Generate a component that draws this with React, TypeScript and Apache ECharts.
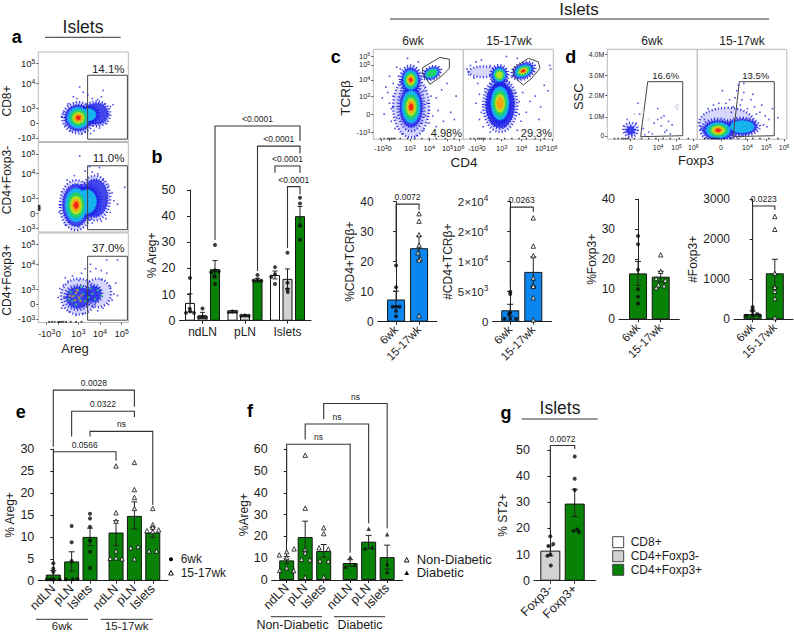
import React, { useEffect, useRef } from "react";
import * as echarts from "echarts";

const FONT = '"Liberation Sans", Arial, sans-serif';
const INK = "#1d1d1d";
const WHITE = "#ffffff";
const GRAY = "#d2d2d2";
const GREEN = "#078207";
const BLUE = "#0a86ee";
const LEVELS = ["#5454ea", "#1a22e6", "#16b2ee", "#22cf6a", "#b2e224", "#f8a312", "#ee2412"];
const NEST = [1, 0.84, 0.66, 0.5, 0.36, 0.24, 0.13];

// ---- panel b
const bPos = [0, 1, 2, 3.4, 4.4, 5.4, 6.8, 7.8, 8.8];
const bMeans = [6.8, 2, 19.7, 3.4, 2, 15.5, 17.5, 16, 40];
const bHi = [10.3, 3.2, 23, 3.9, 2.3, 16.2, 19, 19.8, 43.7];
const bLo = [3.4, 0.9, 16.4, 3, 1.7, 14.8, 16, 12.3, 36];
const bColors = [WHITE, GRAY, GREEN, WHITE, GRAY, GREEN, WHITE, GRAY, GREEN];
const bPoints = [
  [[0, 16.3], [-0.02, 4.6], [-0.32, 3], [0.32, 3], [0.02, 3.5]],
  [[0, 4.7], [-0.25, 1.3], [0.25, 1.3], [0, 1.6]],
  [[0, 29], [-0.3, 18.5], [0.3, 18.8], [0, 19.2], [0, 14], [-0.05, 17]],
  [[-0.3, 3.3], [0, 3.5], [0.3, 3.4]],
  [[-0.3, 1.9], [0, 2], [0.3, 1.9]],
  [[0, 17.5], [0, 15.8], [-0.3, 15.4], [0.3, 15.3]],
  [[0, 20.5], [0, 17.8], [-0.3, 16.8], [0, 14]],
  [[0, 26], [0, 14.5], [0, 12], [0.02, 11]],
  [[0, 47], [0, 44.8], [0, 36.5], [0, 31]],
];
const bBrackets = [[2, 30.9, 74.5, 8.8, 68.7], [5.4, 19, 66.8, 8.8, 64], [6.8, 56.6, 59.2, 8.8, 56.6], [7.8, 27.8, 51.3, 8.8, 48.4]];
const bBracketText = ["<0.0001", "<0.0001", "<0.0001", "<0.0001"];

// ---- panel c bars
const cPctMeans = [7.4, 24.5];
const cPctHi = [10.2, 28.5];
const cPctLo = [5, 20.5];
const cPctPoints = [
  [[0, 18.7], [0, 11.5], [-0.15, 5], [0.15, 5], [0, 5], [0, 3.6], [0, 1.8]],
  [[0, 36], [0, 33.5], [0, 29], [0, 25.5], [-0.05, 23], [0.05, 21], [0, 20.5], [0, 2]],
];
const cNumMeans = [1900, 8300];
const cNumHi = [2900, 10800];
const cNumLo = [900, 5900];
const cNumPoints = [
  [[0, 5000], [0, 4600], [0, 1500], [-0.25, 500], [0.25, 500], [0, 500], [-0.05, 1300]],
  [[0, 17300], [0, 12600], [0, 11000], [0, 7300], [0, 6000], [0, 5900], [0, 4000], [0, 300]],
];
const wkLabels = ["6wk", "15-17wk"];

// ---- panel d bars
const dPctMeans = [15.3, 14.2];
const dPctHi = [19.3, 16];
const dPctLo = [11.3, 12.5];
const dPctPoints = [
  [[0, 27.8], [0, 25], [0, 16.5], [0, 10], [0, 7.5], [0, 5.3]],
  [[0, 21.5], [0, 16], [-0.2, 13.6], [0.2, 13], [-0.1, 11.5], [0.15, 11.2], [-0.2, 10.5]],
];
const dNumMeans = [130, 1150];
const dNumHi = [210, 1500];
const dNumLo = [60, 800];
const dNumPoints = [
  [[0, 310], [0, 260], [0, 200], [-0.28, 90], [0.2, 130], [0, 110], [0.3, 100]],
  [[0, 2570], [0, 2250], [0, 1150], [0, 800], [0, 700], [0, 520], [0, 40]],
];

// ---- panel e
const ePos = [0, 1, 2, 3.42, 4.42, 5.42];
const eMeans = [1.4, 4.4, 10, 11, 14.8, 11];
const eHi = [2.3, 6.6, 12, 13.7, 18, 12.1];
const eLo = [0.5, 2.2, 8, 8, 11.8, 9.9];
const ePoints = [
  [[0, 4], [0, 2.8], [0, 2], [-0.35, 0.3], [0.35, 0.3], [0, 0.2], [-0.15, 0.3]],
  [[0, 12.5], [0, 8.8], [0, 4.5], [-0.3, 0.3], [0.05, 0.3], [0.32, 0.4]],
  [[0, 15.3], [0, 14.2], [0, 12.3], [0, 9.2], [0, 6.6], [0, 2.9]],
  [[0, 26.2], [0, 15.5], [0, 13.6], [0, 6.8], [-0.32, 5.1], [0, 5.2], [0.32, 5]],
  [[0, 27], [0, 20.8], [0, 19], [0, 16.5], [-0.2, 7.5], [0.2, 7.8], [0, 5]],
  [[0, 16.5], [0, 12.8], [0, 12.2], [-0.32, 11.4], [0, 11.2], [0.32, 11.6], [-0.2, 6.8], [0.2, 6.8]],
];
const eBrackets = [[0, 30.6, 43.5, 4.42, 39.7], [1, 32.9, 38.7, 4.42, 37.4], [2, 32.9, 34.1, 5.42, 17.3], [0, 5.5, 29.45, 3.42, 27.4]];
const eBracketText = ["0.0028", "0.0322", "ns", "0.0566"];
const areaLabels = ["ndLN", "pLN", "Islets", "ndLN", "pLN", "Islets"];

// ---- panel f
const fPos = [0, 1, 2, 3.43, 4.43, 5.43];
const fMeans = [9, 19.7, 13.3, 7.8, 17.6, 10.5];
const fHi = [10.8, 27, 16.3, 9.3, 20.5, 16];
const fLo = [7.5, 13, 10.5, 6.3, 14.5, 5];
const fPoints = [
  [[-0.4, 11.5], [0, 13], [0.4, 14.3], [0, 10.3], [0, 5.6], [-0.38, 4.4], [0.38, 4.3]],
  [[0, 57.3], [0, 33], [0, 14], [0, 12.5], [-0.2, 9.5], [0.25, 9.3], [0, 1.3]],
  [[0, 24], [0, 21.3], [-0.25, 14.8], [0.25, 14.2], [-0.2, 8.8], [0.25, 8.6], [0, 1.4]],
  [[0, 10.5], [-0.25, 6.2], [0.25, 7]],
  [[0, 23.5], [-0.2, 14.5], [0.2, 15]],
  [[0, 21], [0, 7.4], [0, 3.7]],
];
const fBrackets = [[0, 17.6, 62.3, 3.43, 12.5], [1, 64.5, 71.6, 4.43, 26], [2, 73.8, 81, 5.43, 23.8]];
const fBracketText = ["ns", "ns", "ns"];

// ---- panel g
const gMeans = [11.5, 29.5];
const gHi = [13.3, 35];
const gLo = [9.5, 24.5];
const gPoints = [
  [[0, 17], [0.12, 14], [-0.08, 13.3], [0, 10], [-0.12, 9.5], [0.02, 5.8]],
  [[0, 47.5], [0, 39], [0, 34.7], [-0.05, 19], [0.1, 19.6], [0.18, 18.6]],
];
const gLabels = ["Foxp3-", "Foxp3+"];

// ---- flow cytometry density blobs read by eye: [u, v, rx, ry, rotation deg, peak level]
const a1Blobs = [[65, 31, 15, 14, 0, 1], [56, 30, 12, 10, 0, 2], [44.5, 26.5, 18, 17.5, 0, 6]];
const a2Blobs = [[63, 38, 17, 25, 0, 1], [54, 34, 16, 20, 0, 2], [42, 30, 18, 28, 0, 6]];
const a3Blobs = [[45, 29, 20, 20, 0, 0], [66, 33, 15, 16, 0, 0], [44, 28, 15, 14, 0, 1], [62, 32, 9, 10, 0, 1]];
const c1Blobs = [[42, 36, 20, 34, 0, 0], [41.6, 66, 12, 16, 0, 6], [42, 36, 15, 27, 0, 6], [64.9, 73.5, 11, 7, 25, 3]];
const c2Blobs = [[41, 38, 19, 30, 0, 1], [40, 71.5, 10, 11, 0, 4], [22, 75, 16, 6, 0, 0], [40.8, 40, 15, 28, 0, 5], [66.7, 76, 14, 9, 25, 6]];
const d1Blobs = [[26, 10.5, 8, 8, 0, 0], [26, 10, 5, 5, 0, 1]];
const d2Blobs = [[33, 18, 31, 17, 0, 0], [50, 14, 20, 10, 0, 2], [23.4, 10, 20, 13, 0, 6]];

// ---- loose events around the blobs, read by eye: [u, v]
const a1Dots = [[46, 61], [55, 52], [72, 57], [80, 39], [83, 41], [76, 20], [68, 15], [28, 32], [26, 28], [39, 50], [43, 48], [52, 11], [41, 13], [60, 48], [66, 47], [74, 42], [78, 30], [48, 8], [58, 9], [33, 42], [30, 18], [62, 12], [70, 50], [50, 55], [36, 12]];
const a2Dots = [[84, 35], [88, 31], [80, 22], [75, 15], [72, 58], [66, 65], [60, 67], [52, 68], [40, 63], [32, 58], [26, 45], [24, 30], [23, 22], [30, 8], [45, 6], [60, 10], [70, 12], [82, 44], [78, 52], [68, 72], [46, 85], [96, 50], [57, 73], [35, 11]];
const a3Dots = [[30, 50], [38, 52], [48, 55], [58, 57], [64, 60], [70, 58], [76, 55], [80, 40], [84, 32], [86, 44], [88, 30], [78, 20], [72, 16], [66, 13], [60, 18], [50, 10], [42, 8], [34, 12], [26, 16], [22, 28], [24, 38], [76, 70], [88, 70], [58, 65], [52, 60], [45, 47], [33, 46], [82, 25], [70, 48], [28, 42]];
const a3Warm = [[40, 30], [46, 26], [50, 32], [38, 24], [44, 36], [36, 34], [52, 24], [60, 32], [66, 36], [70, 30], [42, 20], [48, 40], [56, 28], [63, 26], [34, 26], [58, 38]];
const a3Hot = [[42, 33], [45, 28], [38, 29], [48, 30], [41, 25], [35, 30], [43, 36], [47, 24]];
const axisPileA3 = [[12, 0.8], [15, 0.8], [18, 0.8], [22, 0.8], [24, 0.8], [26, 0.8], [28, 0.8], [31, 0.8], [36, 0.8], [42, 0.8], [48, 0.8]];
const c1Dots = [[18, 70], [22, 62], [26, 80], [30, 78], [14, 58], [10, 46], [20, 20], [24, 12], [32, 6], [48, 4], [56, 10], [62, 18], [66, 26], [72, 32], [60, 40], [64, 48], [70, 46], [76, 55], [56, 54], [86, 30], [90, 22], [18, 40], [12, 28], [70, 14], [78, 20], [58, 58], [50, 86], [38, 90], [82, 62], [92, 48], [16, 52], [22, 48], [20, 34], [26, 24], [58, 26], [62, 32], [54, 18], [28, 70]];
const c2Dots = [[4, 78], [8, 82], [6, 72], [12, 68], [14, 86], [20, 88], [30, 82], [30, 62], [16, 62], [18, 50], [20, 30], [14, 40], [22, 14], [30, 8], [60, 10], [64, 20], [70, 30], [74, 42], [62, 42], [66, 52], [80, 48], [86, 36], [84, 22], [96, 82], [97, 78], [58, 30], [60, 90], [48, 92], [90, 60], [94, 54], [18, 22], [24, 56], [58, 52], [62, 28]];
const d1Dots = [[42, 5], [46, 8], [52, 18], [56, 22], [60, 15], [63, 26], [66, 10], [68, 20], [60, 24], [64, 8], [36, 28], [32, 18], [34, 40], [56, 34], [72, 16], [50, 6], [70, 6], [22, 22], [18, 15], [40, 12]];
const d1Pale = [[78, 38], [78, 34], [76, 36], [30, 28], [40, 30], [46, 22]];
const d2Dots = [[8, 22], [12, 34], [18, 38], [24, 40], [32, 40], [36, 44], [42, 46], [44, 54], [50, 44], [48, 38], [52, 52], [60, 44], [64, 36], [70, 30], [76, 26], [80, 22], [84, 34], [72, 38], [66, 28], [56, 34], [28, 54], [38, 30], [46, 60], [74, 16], [78, 14], [62, 50], [6, 12], [52, 62], [40, 36], [90, 24]];
const axisPileC = [[8, 0.8], [12, 0.8], [16, 0.8], [18, 0.8], [20, 0.8], [22, 0.8], [24, 0.8], [30, 0.8], [38, 0.8], [46, 0.8], [54, 0.8], [62, 0.8], [70, 0.8], [80, 0.8], [90, 0.8]];
const axisPileLeft = [[1, 27], [1, 29], [1, 25]];

// ---- flow gates [u, v]
const a1Gate = [[54.8, 2.6], [54.8, 74], [99, 74], [99, 2.6]];
const c1Gate = [[54.8, 79.6], [74, 91], [84.5, 88.9], [84.5, 78.9], [76, 70.3], [63, 61.1], [54.8, 73.3]];
const c2Gate = [[55.6, 78.9], [72.2, 90], [83.3, 86.2], [85.2, 78.9], [76, 67.8], [66.7, 60.3], [56.3, 69.6]];
const d1Gate = [[37, 2.9], [44.9, 64], [83.8, 64], [83.8, 4]];
const d2Gate = [[40, 3], [47, 64], [86, 64], [86, 4]];

// ---- flow axis tick positions and labels
const aYTicks = [87.4, 65.2, 37.4, 20.8, 4.1];
const aYLabels = ["10^5", "10^4", "10^3", "0", "-10^3"];
const aXTicks = [9.3, 22.2, 44.4, 68.5, 92.6];
const aXLabels = ["-10^3", "0", "10^3", "10^4", "10^5"];
const cYTicks = [92.5, 82.6, 65.9, 47.3, 27.8, 7.8];
const cYLabels = ["10^6", "10^5", "10^4", "10^3", "0", "-10^3"];
const c1XTicks = [8.5, 18, 40.8, 62.2, 82.5, 95];
const c2XTicks = [13, 22.5, 42.7, 64.9, 86, 98.5];
const cXLabels = ["-10^3", "0", "10^3", "10^4", "10^5", "10^6"];
const dYTicks = [94.4, 71.4, 48.4, 24.8, 3.7];
const dYLabels = ["4.0M", "3.0M", "2.0M", "1.0M", "0"];
const d1XTicks = [26, 56.4, 77, 95.6];
const d2XTicks = [26.3, 56, 77, 97];
const dXLabels = ["0", "10^4", "10^5", "10^6"];
const cNumTicks = ["0", "5×10^3", "1×10^4", "2×10^4", "2×10^4"];

function supText(s: string) {
  const i = s.indexOf("^");
  return i < 0 ? `{n|${s}}` : `{n|${s.slice(0, i)}}{s|${s.slice(i + 1)}}`;
}
function richFor(size: number, lead = 3) {
  return {
    n: { fontSize: size, fontFamily: FONT, fill: INK, color: INK, lineHeight: size + lead },
    s: { fontSize: size * 0.72, fontFamily: FONT, fill: INK, color: INK, verticalAlign: "top", lineHeight: size + lead, padding: [0, 0, 3, 0] },
  };
}

function build() {
  const grid: any[] = [], xAxis: any[] = [], yAxis: any[] = [], series: any[] = [], graphic: any[] = [];

  const text = (t: string, x: number, y: number, size: number, o: any = {}) =>
    graphic.push({
      type: "text", x, y, rotation: o.rotation || 0, silent: true,
      style: { text: t, fontSize: size, fontFamily: FONT, fontWeight: o.bold ? "bold" : "normal", fill: o.fill || INK, textAlign: o.align || "center", textVerticalAlign: "middle", align: o.align || "center", verticalAlign: "middle", ...(o.rich ? { rich: o.rich } : {}) },
    });
  const rule = (x1: number, x2: number, y: number) =>
    graphic.push({ type: "line", silent: true, shape: { x1, y1: y, x2, y2: y }, style: { stroke: "#333", lineWidth: 1 } });

  function flow(p: any) {
    const idx = grid.length;
    grid.push({ left: p.x, top: p.y, width: p.w, height: p.h, show: true, borderColor: "#b9b9b9", borderWidth: 1, backgroundColor: "#fff" });
    const rich = richFor(p.tickSize, 1);
    xAxis.push({
      gridIndex: idx, type: "value", min: 0, max: 100, splitLine: { show: false }, axisLine: { show: false },
      axisTick: { show: p.showX, length: 2, customValues: p.xTicks, lineStyle: { color: "#555" } }, axisLabel: { show: false },
    });
    yAxis.push({
      gridIndex: idx, type: "value", min: 0, max: 100, splitLine: { show: false }, axisLine: { show: false },
      axisTick: { show: p.showY, length: 2, customValues: p.yTicks, lineStyle: { color: "#555" } }, axisLabel: { show: false },
    });
    // tick labels sit closer together than the axis's own label layout allows
    if (p.showX) p.xTicks.forEach((t: number, i: number) => text(supText(p.xLabels[i]), p.x + (t * p.w) / 100, p.y + p.h + (p.xGap ?? 9), p.tickSize, { rich }));
    if (p.showY) p.yTicks.forEach((t: number, i: number) => text(supText(p.yLabels[i]), p.x - 3, p.y + p.h - (t * p.h) / 100, p.tickSize, { rich, align: "right" }));
    const layers: number[][] = [];
    for (let l = 0; l <= 6; l++) {
      p.blobs.forEach((b: number[]) => {
        if (l <= b[5]) layers.push([b[0], b[1], b[2] * NEST[l], b[3] * NEST[l], b[4], l]);
      });
    }
    series.push({
      type: "custom", xAxisIndex: idx, yAxisIndex: idx, silent: true, clip: true, encode: { x: 0, y: 1 }, data: layers,
      renderItem: (_: any, api: any) => {
        const c = api.coord([api.value(0), api.value(1)]);
        const s = api.size([api.value(2), api.value(3)]);
        const l = api.value(5);
        return {
          type: "ellipse", x: c[0], y: c[1], rotation: (api.value(4) * Math.PI) / 180,
          shape: { cx: 0, cy: 0, rx: s[0], ry: s[1] },
          style: l === 0
            ? { fill: "rgba(70,70,235,0.22)", stroke: "#2a2ae4", lineWidth: 2.4, lineDash: [1, 2.2] }
            : l === 1
              ? { fill: "rgba(30,34,232,0.8)", stroke: "#1a22e6", lineWidth: 2, lineDash: [1, 1.6] }
              : { fill: LEVELS[l], stroke: LEVELS[l], lineWidth: 1.5, lineDash: [1, 1.5] },
        };
      },
    });
    (p.dots || []).forEach((d: any) => {
      series.push({ type: "scatter", xAxisIndex: idx, yAxisIndex: idx, silent: true, symbol: "rect", symbolSize: d.size || 1.6, itemStyle: { color: d.color }, data: d.pts });
    });
    (p.gates || []).forEach((g: number[][]) => {
      series.push({
        type: "custom", xAxisIndex: idx, yAxisIndex: idx, silent: true, encode: { x: 0, y: 1 }, data: g,
        renderItem: (params: any, api: any) => {
          if (params.dataIndex !== 0) return null;
          return { type: "polygon", shape: { points: g.map((q) => api.coord(q)) }, style: { fill: "none", stroke: "#444", lineWidth: 1 } };
        },
      });
    });
  }

  function bars(p: any) {
    const idx = grid.length;
    grid.push({ left: p.x0, top: p.top, width: p.x1 - p.x0, height: p.base - p.top });
    const rot = p.rotate ?? 45;
    xAxis.push({
      gridIndex: idx, type: "value", min: p.xMin, max: p.xMax, splitLine: { show: false },
      axisLine: { onZero: false, lineStyle: { color: "#222", width: 1 } },
      axisTick: { length: 3, customValues: p.tickPos, lineStyle: { color: "#222" } },
      axisLabel: {
        customValues: p.tickPos, hideOverlap: false, rotate: rot, margin: rot ? 6 : 5, fontSize: p.xSize || 12, fontFamily: FONT, color: INK,
        formatter: (v: number) => { let b = 0; p.tickPos.forEach((t: number, i: number) => { if (Math.abs(t - v) < Math.abs(p.tickPos[b] - v)) b = i; }); return p.tickLabels[b]; },
      },
    });
    yAxis.push({
      gridIndex: idx, type: "value", min: 0, max: p.yMax, interval: p.interval, splitLine: { show: false },
      axisLine: { show: true, lineStyle: { color: "#222", width: 1 } }, axisTick: { show: true, length: 3, lineStyle: { color: "#222" } },
      axisLabel: {
        fontSize: p.ySize || 12, fontFamily: FONT, color: INK, margin: 4,
        ...(p.yLabels ? { formatter: (v: number) => supText(p.yLabels[Math.round(v / p.interval)]), rich: richFor(p.ySize || 11) } : { formatter: (v: number) => String(v) }),
      },
      name: p.yName, nameLocation: "middle", nameGap: p.nameGap, nameRotate: 90, nameTextStyle: { fontSize: 12, fontFamily: FONT, color: INK },
    });
    series.push({
      type: "bar", xAxisIndex: idx, yAxisIndex: idx, barWidth: p.barWidth, silent: true, z: 2,
      data: p.pos.map((x: number, i: number) => ({ value: [x, p.means[i]], itemStyle: { color: p.colors[i], borderColor: "#151515", borderWidth: 1 } })),
    });
    const errData = p.pos.map((x: number, i: number) => [x, p.hi[i], p.lo[i]]);
    series.push({
      type: "custom", xAxisIndex: idx, yAxisIndex: idx, silent: true, z: 3, encode: { x: 0, y: [1, 2] }, data: errData,
      renderItem: (_: any, api: any) => {
        const a = api.coord([api.value(0), api.value(1)]);
        const b = api.coord([api.value(0), api.value(2)]);
        const cap = p.cap || 3;
        const st = { stroke: "#222", lineWidth: 1, fill: "none" };
        return {
          type: "group",
          children: [
            { type: "line", shape: { x1: a[0], y1: a[1], x2: b[0], y2: b[1] }, style: st },
            { type: "line", shape: { x1: a[0] - cap, y1: a[1], x2: a[0] + cap, y2: a[1] }, style: st },
            { type: "line", shape: { x1: b[0] - cap, y1: b[1], x2: b[0] + cap, y2: b[1] }, style: st },
          ],
        };
      },
    });
    p.points.forEach((pts: number[][], i: number) => {
      const kind = p.kinds[i];
      series.push({
        type: "scatter", xAxisIndex: idx, yAxisIndex: idx, silent: true, z: 4,
        symbol: kind === "dot" ? "circle" : "triangle", symbolSize: kind === "dot" ? 4 : 4.4,
        itemStyle: kind === "open" ? { color: "#fff", borderColor: "#111", borderWidth: 1 } : { color: "#0b0b0b" },
        data: pts.map((q) => [p.pos[i] + q[0], q[1]]),
      });
    });
    if (p.brackets) {
      series.push({
        type: "custom", xAxisIndex: idx, yAxisIndex: idx, silent: true, z: 5, clip: false, encode: { x: 0, y: 1 }, data: p.brackets,
        renderItem: (params: any, api: any) => {
          const L = api.coord([api.value(0), api.value(1)]);
          const T1 = api.coord([api.value(0), api.value(2)]);
          const T2 = api.coord([api.value(3), api.value(2)]);
          const R = api.coord([api.value(3), api.value(4)]);
          return {
            type: "group",
            children: [
              { type: "polyline", shape: { points: [L, T1, T2, R] }, style: { fill: "none", stroke: "#333", lineWidth: 1.1 } },
              {
                type: "text", x: (T1[0] + T2[0]) / 2, y: T1[1] - 7,
                style: { text: p.bracketText[params.dataIndex], fontSize: 8.5, fontFamily: FONT, fill: "#222", textAlign: "center", textVerticalAlign: "middle", align: "center", verticalAlign: "middle" },
              },
            ],
          };
        },
      });
    }
  }

  // panel a plots
  const aBase = { x: 38.3, w: 90, h: 89.5, tickSize: 9.5, xGap: 11, showY: true, yTicks: aYTicks, yLabels: aYLabels, xTicks: aXTicks, xLabels: aXLabels };
  flow({ ...aBase, y: 52, blobs: a1Blobs, showX: false, gates: [a1Gate], dots: [{ color: "#2525df", pts: a1Dots }] });
  flow({ ...aBase, y: 142.5, blobs: a2Blobs, showX: false, gates: [a1Gate], dots: [{ color: "#2525df", pts: a2Dots }, { color: "#111", pts: axisPileLeft, size: 2.5 }] });
  flow({
    ...aBase, y: 233, blobs: a3Blobs, showX: true, gates: [a1Gate],
    dots: [{ color: "#2525df", pts: a3Dots }, { color: "#2ccb6c", pts: a3Warm, size: 2.2 }, { color: "#e8a020", pts: a3Hot, size: 2 }, { color: "#111", pts: axisPileA3, size: 1.8 }],
  });
  // panel c plots
  const cBase = { y: 49.3, w: 90, h: 90, tickSize: 7.5, showX: true, yLabels: cYLabels, xLabels: cXLabels };
  flow({ ...cBase, x: 373.3, showY: true, yTicks: cYTicks, xTicks: c1XTicks, blobs: c1Blobs, gates: [c1Gate], dots: [{ color: "#2525df", pts: c1Dots }, { color: "#111", pts: axisPileC, size: 1.5 }] });
  flow({ ...cBase, x: 463.3, showY: false, yTicks: cYTicks, xTicks: c2XTicks, blobs: c2Blobs, gates: [c2Gate], dots: [{ color: "#2525df", pts: c2Dots }, { color: "#111", pts: axisPileC, size: 1.5 }] });
  // panel d plots
  const dBase = { y: 49.3, w: 90, h: 90, tickSize: 7, showX: true, yLabels: dYLabels, xLabels: dXLabels, xGap: 8.5 };
  flow({ ...dBase, x: 607.3, showY: true, yTicks: dYTicks, xTicks: d1XTicks, blobs: d1Blobs, gates: [d1Gate], dots: [{ color: "#3a3ae0", pts: d1Dots }, { color: "#d5d5e6", pts: d1Pale, size: 2.4 }, { color: "#111", pts: axisPileC, size: 1.5 }] });
  flow({ ...dBase, x: 697.3, w: 89.5, showY: false, yTicks: dYTicks, xTicks: d2XTicks, blobs: d2Blobs, gates: [d2Gate], dots: [{ color: "#2525df", pts: d2Dots }, { color: "#111", pts: axisPileC, size: 1.5 }] });

  // bar panels
  const blueCols = [BLUE, BLUE];
  const greenCols = [GREEN, GREEN];
  const ticks01 = [0, 1];
  bars({
    x0: 179.5, x1: 311, top: 190, base: 320.7, yMax: 50, interval: 10, xMin: -0.84, xMax: 9.68, pos: bPos, means: bMeans, hi: bHi, lo: bLo, colors: bColors,
    points: bPoints, kinds: bPos.map(() => "dot"), barWidth: 10, cap: 2.5, tickPos: [1, 4.4, 7.8], tickLabels: ["ndLN", "pLN", "Islets"], rotate: 0, xSize: 12, ySize: 12.5,
    yName: "% Areg+", nameGap: 22, brackets: bBrackets, bracketText: bBracketText,
  });
  bars({
    x0: 377.7, x1: 437, top: 201.7, base: 321.7, yMax: 40, interval: 10, xMin: -0.8, xMax: 1.78, pos: ticks01, means: cPctMeans, hi: cPctHi, lo: cPctLo, colors: blueCols,
    points: cPctPoints, kinds: ["dot", "open"], barWidth: 18, tickPos: ticks01, tickLabels: wkLabels, xSize: 11.5, ySize: 12,
    yName: "%CD4+TCRβ+", nameGap: 20, brackets: [[0, 20, 39.2, 1, 37.2]], bracketText: ["0.0072"],
  });
  bars({
    x0: 492.3, x1: 551.7, top: 201.7, base: 321.7, yMax: 20000, interval: 5000, xMin: -0.78, xMax: 1.8, pos: ticks01, means: cNumMeans, hi: cNumHi, lo: cNumLo, colors: blueCols,
    points: cNumPoints, kinds: ["dot", "open"], barWidth: 18, tickPos: ticks01, tickLabels: wkLabels, xSize: 11.5, ySize: 11.5, yLabels: cNumTicks,
    yName: "#CD4+TCRβ+", nameGap: 37, brackets: [[0, 5800, 19100, 1, 18300]], bracketText: ["0.0263"],
  });
  bars({
    x0: 619, x1: 679.3, top: 199.3, base: 319.3, yMax: 40, interval: 10, xMin: -0.84, xMax: 1.82, pos: ticks01, means: dPctMeans, hi: dPctHi, lo: dPctLo, colors: greenCols,
    points: dPctPoints, kinds: ["dot", "open"], barWidth: 18, tickPos: ticks01, tickLabels: wkLabels, xSize: 11.5, ySize: 12,
    yName: "%Foxp3+", nameGap: 20,
  });
  bars({
    x0: 734, x1: 793, top: 199.3, base: 319.3, yMax: 3000, interval: 1000, xMin: -0.84, xMax: 1.82, pos: ticks01, means: dNumMeans, hi: dNumHi, lo: dNumLo, colors: greenCols,
    points: dNumPoints, kinds: ["dot", "open"], barWidth: 18, tickPos: ticks01, tickLabels: wkLabels, xSize: 11.5, ySize: 12,
    yName: "#Foxp3+", nameGap: 31, brackets: [[0, 440, 2832, 1, 2730]], bracketText: ["0.0223"],
  });
  bars({
    x0: 38.3, x1: 168, top: 449.3, base: 580.7, yMax: 30, interval: 5, xMin: -0.817, xMax: 6.25, pos: ePos, means: eMeans, hi: eHi, lo: eLo, colors: ePos.map(() => GREEN),
    points: ePoints, kinds: ["dot", "dot", "dot", "open", "open", "open"], barWidth: 15, tickPos: ePos, tickLabels: areaLabels, xSize: 12.5, ySize: 12.5,
    yName: "% Areg+", nameGap: 20, brackets: eBrackets, bracketText: eBracketText,
  });
  bars({
    x0: 271.7, x1: 402.7, top: 449.3, base: 580, yMax: 60, interval: 10, xMin: -0.81, xMax: 6.27, pos: fPos, means: fMeans, hi: fHi, lo: fLo, colors: fPos.map(() => GREEN),
    points: fPoints, kinds: ["open", "open", "open", "solid", "solid", "solid"], barWidth: 15, tickPos: fPos, tickLabels: areaLabels, xSize: 12.5, ySize: 12.5,
    yName: "%Areg+", nameGap: 20, brackets: fBrackets, bracketText: fBracketText,
  });
  bars({
    x0: 534, x1: 595.7, top: 450, base: 580.7, yMax: 50, interval: 10, xMin: -0.67, xMax: 1.86, pos: ticks01, means: gMeans, hi: gHi, lo: gLo, colors: [GRAY, GREEN],
    points: gPoints, kinds: ["dot", "dot"], barWidth: 20, tickPos: ticks01, tickLabels: gLabels, xSize: 12.5, ySize: 12.5,
    yName: "% ST2+", nameGap: 25, brackets: [[0, 18.7, 51.7, 1, 50.4]], bracketText: ["0.0072"],
  });

  // headings, rules and panel letters
  text("Islets", 83, 27, 17.5); rule(45, 120.7, 37.3);
  text("Islets", 579, 9.5, 17); rule(390, 769, 19);
  text("Islets", 560, 408, 17.5); rule(521.7, 597.7, 419);
  [["a", 16.7, 37], ["b", 157, 157], ["c", 335.7, 57], ["d", 570.7, 57], ["e", 20.7, 412], ["f", 250, 411], ["g", 506, 412.7]].forEach((l: any) =>
    text(l[0], l[1], l[2], 18, { bold: true, fill: "#000" }));
  text("6wk", 413, 40.7, 12); text("15-17wk", 509, 40.7, 12);
  text("6wk", 652, 40.7, 12); text("15-17wk", 742, 40.7, 12);
  text("14.1%", 124.5, 68.5, 11.5, { align: "right" }); text("11.0%", 124.5, 157.5, 11.5, { align: "right" }); text("37.0%", 124.5, 248, 11.5, { align: "right" });
  text("4.98%", 462, 133, 11, { align: "right" }); text("29.3%", 552, 133, 11, { align: "right" });
  text("16.6%", 665.7, 75.7, 9.5); text("13.5%", 755.7, 75.7, 9.5);
  text("CD8+", 7, 101, 12, { rotation: Math.PI / 2 });
  text("CD4+Foxp3-", 7, 180, 12, { rotation: Math.PI / 2 });
  text("CD4+Foxp3+", 7, 280, 12, { rotation: Math.PI / 2 });
  text("Areg", 75, 348, 13);
  text("TCRβ", 345, 98, 13.5, { rotation: Math.PI / 2 });
  text("CD4", 464, 162.7, 13.5);
  text("SSC", 578, 96.7, 13, { rotation: Math.PI / 2 });
  text("Foxp3", 696, 160.5, 13);

  // group rules under e and f
  rule(36, 88, 619.3); text("6wk", 62, 626.3, 11.5);
  rule(100.7, 152.7, 619.3); text("15-17wk", 126.7, 626.3, 11.5);
  rule(270.7, 322, 616.7); text("Non-Diabetic", 292.5, 625.3, 12.5);
  rule(334, 385, 616.7); text("Diabetic", 360, 625.3, 12.5);

  // point-shape keys
  graphic.push({ type: "circle", silent: true, shape: { cx: 171, cy: 559.3, r: 2 }, style: { fill: "#000" } });
  text("6wk", 180.7, 559.3, 12, { align: "left" });
  graphic.push({ type: "polygon", silent: true, shape: { points: [[171, 570.5], [173.3, 575], [168.7, 575]] }, style: { fill: "#fff", stroke: "#111", lineWidth: 1 } });
  text("15-17wk", 180.7, 572.7, 12, { align: "left" });
  graphic.push({ type: "polygon", silent: true, shape: { points: [[406.7, 557.5], [409, 562], [404.4, 562]] }, style: { fill: "#fff", stroke: "#111", lineWidth: 1 } });
  text("Non-Diabetic", 416.7, 559.7, 13, { align: "left" });
  graphic.push({ type: "polygon", silent: true, shape: { points: [[406.7, 570.5], [409, 575], [404.4, 575]] }, style: { fill: "#000" } });
  text("Diabetic", 416.7, 572.7, 13, { align: "left" });

  // colour key
  [["CD8+", WHITE, 536.7], ["CD4+Foxp3-", GRAY, 550.7], ["CD4+Foxp3+", GREEN, 564.3]].forEach((k: any) => {
    graphic.push({ type: "rect", silent: true, shape: { x: 612.7, y: k[2], width: 11, height: 11 }, style: { fill: k[1], stroke: "#444", lineWidth: 1 } });
    text(k[0], 630.7, k[2] + 5.5, 12, { align: "left" });
  });

  return { animation: false, backgroundColor: "#fff", grid, xAxis, yAxis, series, graphic: { elements: graphic } };
}

export default function App() {
  const ref = useRef<HTMLDivElement>(null);
  useEffect(() => {
    document.body.style.margin = "0";
    const chart = echarts.init(ref.current!, undefined, { renderer: "svg" });
    chart.setOption(build() as any);
    return () => chart.dispose();
  }, []);
  return <div ref={ref} style={{ width: 794, height: 633 }} />;
}
